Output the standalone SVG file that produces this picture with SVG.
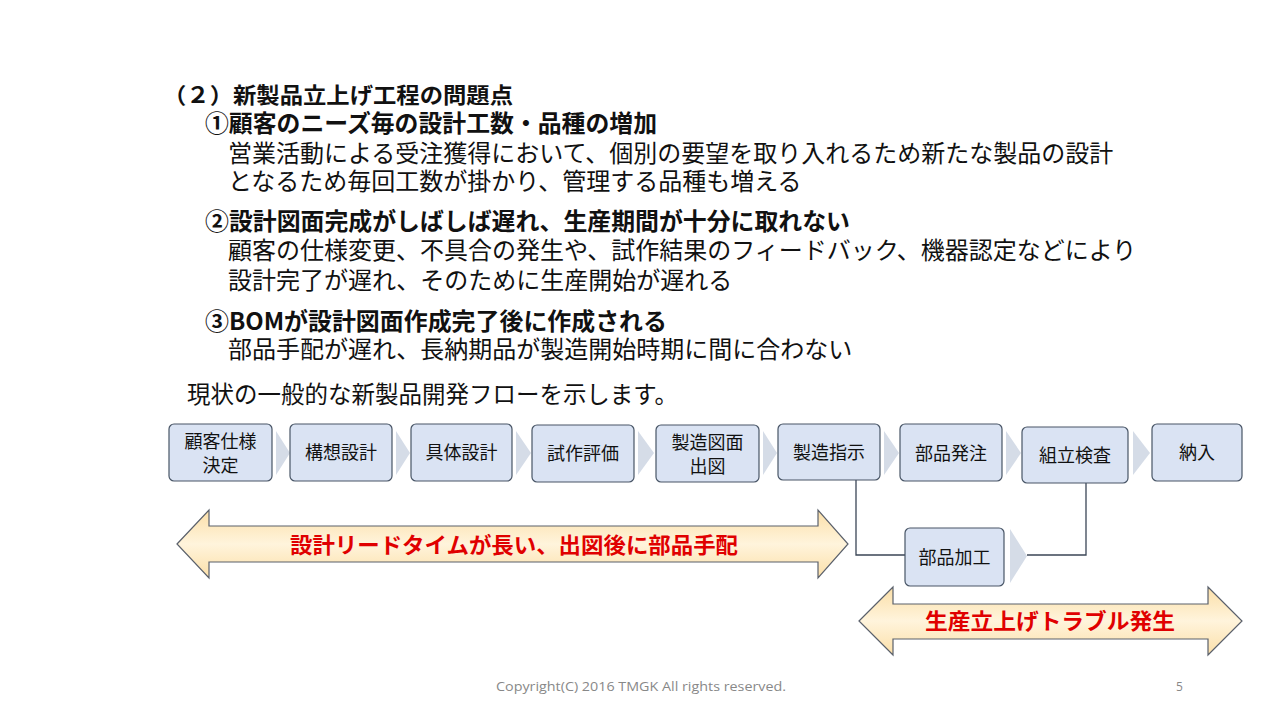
<svg xmlns="http://www.w3.org/2000/svg" width="1280" height="720" viewBox="0 0 1280 720">
<defs>
<linearGradient id="yg" x1="0" y1="0" x2="0" y2="1">
<stop offset="0" stop-color="#fbdfa8"/>
<stop offset="0.5" stop-color="#fff4dc"/>
<stop offset="1" stop-color="#fbdfa8"/>
</linearGradient>
<style>
.jp{font-family:"Noto Sans CJK JP","Noto Sans",sans-serif;fill:#111;}
.h{font-weight:bold;}
.b{font-size:24px;}
.box{fill:#dae3f3;stroke:#485566;stroke-width:1.2;}
.tri{fill:#d5dce7;}
.nt{font-family:"Noto Sans CJK JP","Noto Sans",sans-serif;font-size:18px;fill:#111;text-anchor:middle;}
.con{fill:none;stroke:#3b4656;stroke-width:1.3;}
.arr{fill:url(#yg);stroke:#5a606b;stroke-width:1.2;}
.rt{font-family:"Noto Sans CJK JP","Noto Sans",sans-serif;font-size:22px;font-weight:bold;fill:#e00000;text-anchor:middle;}
.ft{font-family:"Open Sans","Liberation Sans",sans-serif;font-size:12px;fill:#888;}
</style>
</defs>
<rect width="1280" height="720" fill="#fff"/>
<g id="text">
<text class="jp h" x="163" y="103" font-size="22" textLength="350" lengthAdjust="spacingAndGlyphs">（２）新製品立上げ工程の問題点</text>
<text class="jp h" x="205" y="132" font-size="23.5" textLength="452" lengthAdjust="spacingAndGlyphs">①顧客のニーズ毎の設計工数・品種の増加</text>
<text class="jp b" x="228" y="162">営業活動による受注獲得において、個別の要望を取り入れるため新たな製品の設計</text>
<text class="jp b" x="228" y="190">となるため毎回工数が掛かり、管理する品種も増える</text>
<text class="jp h" x="205" y="230" font-size="23.5" textLength="645" lengthAdjust="spacingAndGlyphs">②設計図面完成がしばしば遅れ、生産期間が十分に取れない</text>
<text class="jp b" x="228" y="259">顧客の仕様変更、不具合の発生や、試作結果のフィードバック、機器認定などにより</text>
<text class="jp b" x="228" y="289">設計完了が遅れ、そのために生産開始が遅れる</text>
<text class="jp h" x="205" y="330" font-size="23.5" textLength="462" lengthAdjust="spacingAndGlyphs">③BOMが設計図面作成完了後に作成される</text>
<text class="jp b" x="228" y="358">部品手配が遅れ、長納期品が製造開始時期に間に合わない</text>
<text class="jp" x="187" y="403" font-size="23.4" textLength="491" lengthAdjust="spacingAndGlyphs">現状の一般的な新製品開発フローを示します。</text>
</g>
<g id="chevrons">
<polygon class="tri" points="276,431 290,453 276,475"/>
<polygon class="tri" points="396,431 410,453 396,475"/>
<polygon class="tri" points="516,431 531,453 516,475"/>
<polygon class="tri" points="638,431 654,453 638,475"/>
<polygon class="tri" points="763,431 777,453 763,475"/>
<polygon class="tri" points="884,431 899,453 884,475"/>
<polygon class="tri" points="1006,431 1021,453 1006,475"/>
<polygon class="tri" points="1133,431 1150,453 1133,475"/>
<polygon class="tri" points="1010,529 1027,556 1010,583"/>
</g>
<g id="connectors">
<polyline class="con" points="856,480 856,555 905,555"/>
<polyline class="con" points="1027,555 1086,555 1086,483"/>
</g>
<g id="n1"><rect class="box" x="169" y="424" width="103" height="57" rx="5"/><text class="nt" x="220.5" y="448">顧客仕様</text><text class="nt" x="220.5" y="472">決定</text></g>
<g id="n2"><rect class="box" x="290" y="424" width="102" height="57" rx="5"/><text class="nt" x="341" y="459">構想設計</text></g>
<g id="n3"><rect class="box" x="411" y="424" width="101" height="57" rx="5"/><text class="nt" x="461.5" y="459">具体設計</text></g>
<g id="n4"><rect class="box" x="532" y="425" width="102" height="57" rx="5"/><text class="nt" x="583" y="460">試作評価</text></g>
<g id="n5"><rect class="box" x="656" y="425" width="103" height="57" rx="5"/><text class="nt" x="707.5" y="449">製造図面</text><text class="nt" x="707.5" y="473">出図</text></g>
<g id="n6"><rect class="box" x="778" y="424" width="102" height="56" rx="5"/><text class="nt" x="829" y="459">製造指示</text></g>
<g id="n7"><rect class="box" x="900" y="424" width="102" height="57" rx="5"/><text class="nt" x="951" y="460">部品発注</text></g>
<g id="n8"><rect class="box" x="1022" y="427" width="106" height="56" rx="5"/><text class="nt" x="1075" y="462">組立検査</text></g>
<g id="n9"><rect class="box" x="1152" y="424" width="90" height="57" rx="5"/><text class="nt" x="1197" y="459">納入</text></g>
<g id="n10"><rect class="box" x="905" y="528" width="99" height="58" rx="5"/><text class="nt" x="954.5" y="564">部品加工</text></g>
<g id="arrow1">
<polygon class="arr" points="177,544 209,510 209,526 818,526 818,510 848,544 818,578 818,562 209,562 209,578"/>
<text class="rt" x="514" y="553" textLength="448" lengthAdjust="spacingAndGlyphs">設計リードタイムが長い、出図後に部品手配</text>
</g>
<g id="arrow2">
<polygon class="arr" points="859,621 893,587 893,604 1208,604 1208,587 1242,621 1208,655 1208,639 893,639 893,655"/>
<text class="rt" x="1050" y="629" textLength="250" lengthAdjust="spacingAndGlyphs">生産立上げトラブル発生</text>
</g>
<g id="footer">
<text class="ft" x="496" y="691" textLength="290" lengthAdjust="spacingAndGlyphs">Copyright(C)  2016 TMGK All rights reserved.</text>
<text class="ft" x="1176" y="691">5</text>
</g>
</svg>
